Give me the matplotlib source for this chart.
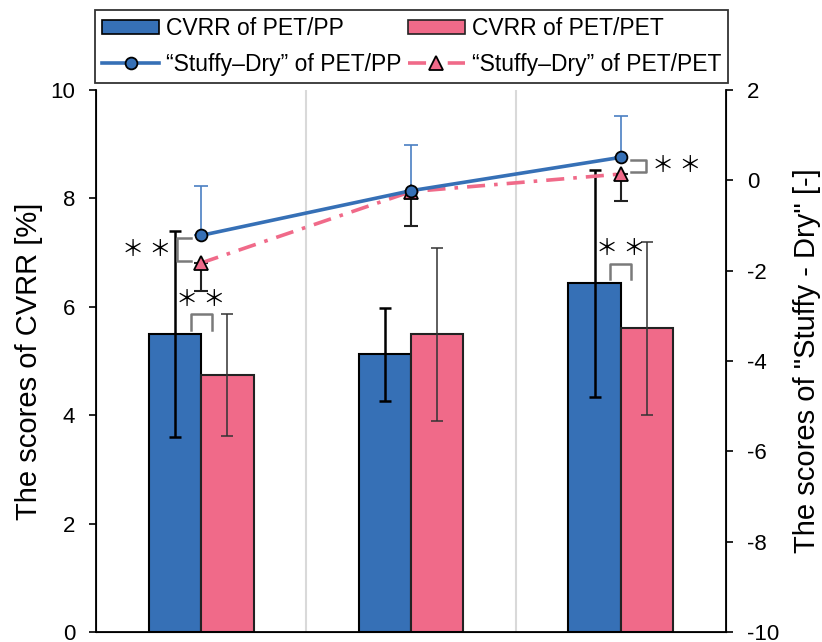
import numpy as np
import matplotlib.pyplot as plt
from matplotlib.patches import Patch
from matplotlib.lines import Line2D

plt.rcParams["font.family"] = ["Liberation Sans", "DejaVu Sans"]
plt.rcParams["axes.unicode_minus"] = False

# CVRR scores (left axis)
groups = ["1", "2", "3"]
cvrr_pp = [5.50, 5.12, 6.43]
cvrr_pp_sd = [1.90, 0.85, 2.10]
cvrr_pet = [4.74, 5.49, 5.60]
cvrr_pet_sd = [1.13, 1.59, 1.60]

# "Stuffy - Dry" scores (right axis)
sd_pp = [-1.22, -0.23, 0.51]
sd_pp_sd = [1.10, 1.02, 0.91]
sd_pet = [-1.83, -0.25, 0.14]
sd_pet_sd = [0.63, 0.77, 0.60]

# significance marks: which groups, and which side the line bracket sits
bar_sig = [0, 2]
line_sig = {0: "left", 2: "right"}

BLUE = "#3670b6"
PINK = "#f06a89"
GRAY = "#7a7a7a"
STAR = "＊ ＊"
STAR_FONT = ["Noto Sans CJK JP", "DejaVu Sans"]

x = np.arange(len(groups))
w = 0.25

fig = plt.figure(figsize=(8.22, 6.42), dpi=100)
ax = fig.add_axes([0.1168, 0.0156, 0.7664, 0.8442])

ax.bar(x - w / 2, cvrr_pp, w, color=BLUE, edgecolor="black", linewidth=1.5, zorder=2)
ax.bar(x + w / 2, cvrr_pet, w, color=PINK, edgecolor="#222222", linewidth=1.5, zorder=2)
ax.errorbar(x - w / 2, cvrr_pp, yerr=cvrr_pp_sd, fmt="none", ecolor="black",
            elinewidth=1.8, capsize=4, capthick=1.8, zorder=3)
ax.errorbar(x + w / 2, cvrr_pet, yerr=cvrr_pet_sd, fmt="none", ecolor="#333333",
            elinewidth=1.1, capsize=4, capthick=1.1, zorder=3)

ax.set_xlim(-0.5, 2.5)
ax.set_ylim(0, 10)
ax.set_yticks(np.arange(0, 11, 2))
ax.set_xticks([])
ax.set_xticks([0.5, 1.5], minor=True)
ax.tick_params(axis="x", which="both", length=0)
ax.grid(True, which="minor", axis="x", color="#d9d9d9", linewidth=1.5, zorder=0)
ax.set_axisbelow(True)
ax.tick_params(axis="y", direction="out", length=5, width=1.2, labelsize=16, pad=10)
ax.set_ylabel("The scores of CVRR [%]", fontsize=21, labelpad=5)
ax.spines["top"].set_visible(False)
for s in ["left", "bottom", "right"]:
    ax.spines[s].set_linewidth(1.3)

# brackets and asterisks between the two bars
for i in bar_sig:
    top = max(cvrr_pp[i], cvrr_pet[i])
    ax.plot([i - 0.05, i - 0.05, i + 0.05, i + 0.05],
            [top + 0.08, top + 0.36, top + 0.36, top + 0.08],
            color=GRAY, linewidth=1.8, zorder=4)
    ax.text(i, top + 0.64, STAR, ha="center", va="center", fontsize=16,
            family=STAR_FONT, zorder=4)

ax2 = ax.twinx()
ax2.set_ylim(-10, 2)
ax2.set_yticks(np.arange(-10, 3, 2))
ax2.tick_params(axis="y", direction="out", length=5, width=1.2, labelsize=16, pad=10)
ax2.set_ylabel('The scores of "Stuffy - Dry" [-]', fontsize=21, labelpad=10)
ax2.spines["top"].set_visible(False)

ax2.errorbar(x, sd_pp, yerr=[np.zeros(3), sd_pp_sd], fmt="none", ecolor="#4a7fc2",
             elinewidth=1.2, capsize=5, capthick=1.2, zorder=2)
ax2.errorbar(x, sd_pet, yerr=[sd_pet_sd, np.zeros(3)], fmt="none", ecolor="#222222",
             elinewidth=1.5, capsize=5, capthick=1.5, zorder=2)
ax2.plot(x, sd_pp, color=BLUE, linewidth=2.6, marker="o", markersize=8.5,
         markerfacecolor=BLUE, markeredgecolor="black", markeredgewidth=1.3, zorder=4)
ax2.plot(x, sd_pet, color=PINK, linewidth=2.6, dashes=(5, 2.5, 1, 2.5),
         marker="^", markersize=10, markerfacecolor=PINK, markeredgecolor="black",
         markeredgewidth=1.3, zorder=3)

# brackets between the two lines
for i, side in line_sig.items():
    hi = sd_pp[i] - 0.05
    lo = sd_pet[i] + 0.05
    if side == "left":
        xs = [i - 0.05, i - 0.115, i - 0.115, i - 0.05]
        ax2.text(i - 0.14, (hi + lo) / 2, STAR, ha="right", va="center", fontsize=16,
                 family=STAR_FONT, zorder=5)
    else:
        xs = [i + 0.05, i + 0.12, i + 0.12, i + 0.05]
        ax2.text(i + 0.15, (hi + lo) / 2, STAR, ha="left", va="center", fontsize=16,
                 family=STAR_FONT, zorder=5)
    ax2.plot(xs, [hi, hi, lo, lo], color=GRAY, linewidth=1.8, zorder=5)

handles = [
    Patch(facecolor=BLUE, edgecolor="black", linewidth=1.2),
    Line2D([], [], color=BLUE, linewidth=2.6, marker="o", markersize=8.5,
           markerfacecolor=BLUE, markeredgecolor="black", markeredgewidth=1.3),
    Patch(facecolor=PINK, edgecolor="#222222", linewidth=1.2),
    Line2D([], [], color=PINK, linewidth=2.6, dashes=(5, 2.5, 1, 2.5), marker="^",
           markersize=10, markerfacecolor=PINK, markeredgecolor="black",
           markeredgewidth=1.3),
]
labels = ["CVRR of PET/PP", "\u201cStuffy\u2013Dry\u201d of PET/PP",
          "CVRR of PET/PET", "\u201cStuffy\u2013Dry\u201d of PET/PET"]
leg = fig.legend(handles, labels, ncol=2, loc="center", mode="expand",
                 bbox_to_anchor=(0.1156, 0.8738, 0.770, 0.1075), borderaxespad=0,
                 fontsize=16.5, frameon=True, fancybox=False, edgecolor="black",
                 handlelength=2.5, handleheight=0.55, handletextpad=0.3,
                 labelspacing=0.55, borderpad=0.3)
leg.get_frame().set_linewidth(1.3)

fig.savefig("out.png", dpi=100)
